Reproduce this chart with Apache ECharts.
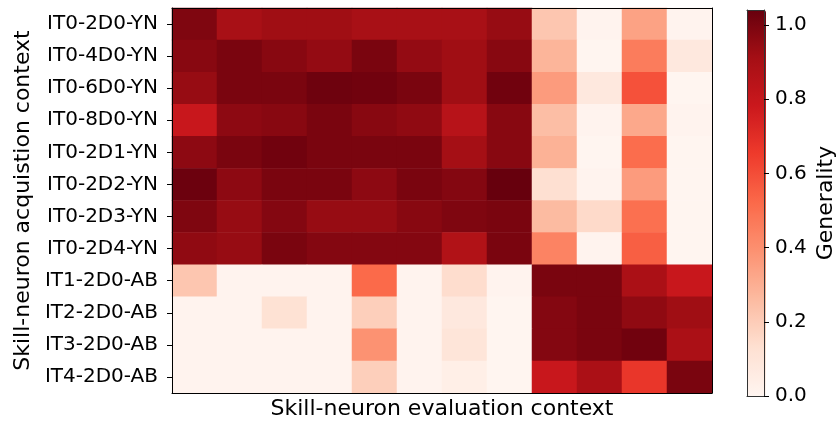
<!DOCTYPE html>
<html>
<head>
<meta charset="utf-8">
<script src="https://cdn.jsdelivr.net/npm/echarts@6/dist/echarts.min.js"></script>
<style>
  html, body { margin: 0; padding: 0; background: #fff; }
  #chart { width: 838px; height: 425px; }
</style>
</head>
<body>
<div id="chart"></div>
<script>
// row labels (acquisition context), top to bottom
var rows = ["IT0-2D0-YN", "IT0-4D0-YN", "IT0-6D0-YN", "IT0-8D0-YN",
            "IT0-2D1-YN", "IT0-2D2-YN", "IT0-2D3-YN", "IT0-2D4-YN",
            "IT1-2D0-AB", "IT2-2D0-AB", "IT3-2D0-AB", "IT4-2D0-AB"];
// evaluation context columns (not labelled in the figure)
var cols = ["c0", "c1", "c2", "c3", "c4", "c5", "c6", "c7", "c8", "c9", "c10", "c11"];
// generality values, one line per row
var generality = [
  [0.99, 0.90, 0.92, 0.92, 0.90, 0.90, 0.90, 0.94, 0.22, 0.01, 0.34, 0.01],
  [0.97, 1.00, 0.97, 0.945, 1.00, 0.945, 0.92, 0.97, 0.28, 0.00, 0.46, 0.08],
  [0.94, 1.00, 1.00, 1.025, 1.02, 1.00, 0.92, 1.02, 0.36, 0.08, 0.59, 0.00],
  [0.79, 0.96, 0.97, 1.00, 0.97, 0.955, 0.85, 0.97, 0.25, 0.01, 0.32, 0.01],
  [0.96, 1.00, 1.02, 1.00, 1.00, 1.00, 0.91, 0.97, 0.29, 0.00, 0.51, 0.00],
  [1.03, 0.96, 1.00, 1.00, 0.96, 1.00, 0.98, 1.04, 0.13, 0.01, 0.36, 0.00],
  [0.99, 0.94, 0.98, 0.94, 0.94, 0.97, 0.99, 1.00, 0.26, 0.15, 0.50, 0.00],
  [0.955, 0.94, 1.00, 0.98, 0.98, 0.98, 0.87, 1.00, 0.44, 0.01, 0.55, 0.00],
  [0.22, 0.01, 0.01, 0.01, 0.52, 0.01, 0.14, 0.01, 1.00, 1.00, 0.89, 0.79],
  [0.01, 0.01, 0.12, 0.01, 0.19, 0.01, 0.08, 0.00, 0.98, 1.00, 0.955, 0.92],
  [0.01, 0.01, 0.01, 0.01, 0.39, 0.01, 0.10, 0.00, 0.98, 1.00, 1.02, 0.89],
  [0.01, 0.01, 0.01, 0.01, 0.19, 0.01, 0.04, 0.00, 0.79, 0.89, 0.67, 1.00]
];
var vmin = 0, vmax = 1.04;
var cbTicks = [0, 0.2, 0.4, 0.6, 0.8, 1.0];
// matplotlib "Reds"
var reds = ["#fff5f0", "#fee0d2", "#fcbba1", "#fc9272", "#fb6a4a",
            "#ef3b2c", "#cb181d", "#a50f15", "#67000d"];

var cells = [];
for (var r = 0; r < rows.length; r++) {
  for (var c = 0; c < cols.length; c++) {
    cells.push([c, r, generality[r][c]]);
  }
}

var font = "DejaVu Sans";
var frame = { show: true, onZero: false, lineStyle: { color: '#000', width: 1 } };
var cbFrame = { show: true, onZero: false, lineStyle: { color: '#333', width: 1 } };

var chart = echarts.init(document.getElementById('chart'));
var option = {
  backgroundColor: '#fff',
  animation: false,
  textStyle: { fontFamily: font },
  grid: [
    { left: 172, top: 8, width: 540, height: 387 },
    { left: 747, top: 10, width: 19, height: 386 }
  ],
  xAxis: [
    {
      type: 'category', data: cols, gridIndex: 0, position: 'bottom',
      axisLine: frame, axisTick: { show: false }, axisLabel: { show: false },
      splitLine: { show: false }, z: 5,
      name: 'Skill-neuron evaluation context', nameLocation: 'middle', nameGap: 5,
      nameTextStyle: { fontSize: 22, color: '#000', fontFamily: font, verticalAlign: 'top' }
    },
    {
      type: 'category', data: cols, gridIndex: 0, position: 'top',
      axisLine: frame, axisTick: { show: false }, axisLabel: { show: false }, z: 5
    },
    // colorbar outline, bottom and top
    {
      type: 'value', gridIndex: 1, position: 'bottom', min: 0, max: 1,
      axisLine: cbFrame, axisTick: { show: false }, axisLabel: { show: false },
      splitLine: { show: false }, z: 5
    },
    {
      type: 'value', gridIndex: 1, position: 'top', min: 0, max: 1,
      axisLine: cbFrame, axisTick: { show: false }, axisLabel: { show: false },
      splitLine: { show: false }, z: 5
    }
  ],
  yAxis: [
    {
      type: 'category', data: rows, gridIndex: 0, inverse: true, position: 'left',
      axisLine: frame,
      axisTick: { show: true, alignWithLabel: true, length: 5, lineStyle: { color: '#000' } },
      axisLabel: { fontSize: 20, color: '#000', fontFamily: font, margin: 14 },
      splitLine: { show: false }, z: 5,
      name: 'Skill-neuron acquistion context', nameLocation: 'middle', nameGap: 138,
      nameRotate: 90,
      nameTextStyle: { fontSize: 22, color: '#000', fontFamily: font }
    },
    {
      type: 'category', data: rows, gridIndex: 0, inverse: true, position: 'right',
      axisLine: frame, axisTick: { show: false }, axisLabel: { show: false }, z: 5
    },
    {
      type: 'value', gridIndex: 1, position: 'right', min: vmin, max: vmax,
      interval: 0.2,
      axisLine: cbFrame,
      axisTick: { show: true, length: 5, lineStyle: { color: '#000' } },
      axisLabel: {
        fontSize: 20, color: '#000', fontFamily: font, margin: 11,
        showMaxLabel: false,
        formatter: function (v) { return cbTicks.indexOf(Math.round(v * 10) / 10) >= 0 ? v.toFixed(1) : ''; }
      },
      splitLine: { show: false }, z: 5,
      name: 'Generality', nameLocation: 'middle', nameGap: 51, nameRotate: 90,
      nameTextStyle: { fontSize: 22, color: '#000', fontFamily: font, verticalAlign: 'top' }
    },
    {
      type: 'value', gridIndex: 1, position: 'left', min: vmin, max: vmax,
      axisLine: cbFrame, axisTick: { show: false }, axisLabel: { show: false },
      splitLine: { show: false }, z: 5
    }
  ],
  visualMap: {
    type: 'continuous', min: vmin, max: vmax, seriesIndex: 0,
    calculable: false, orient: 'vertical', left: 747, top: 10,
    itemWidth: 19, itemHeight: 386, padding: 0, text: null, showLabel: false,
    inRange: { color: reds }
  },
  series: [
    {
      type: 'heatmap', xAxisIndex: 0, yAxisIndex: 0, data: cells,
      itemStyle: { borderWidth: 0 },
      emphasis: { disabled: true }
    }
  ]
};
chart.setOption(option);
</script>
</body>
</html>
